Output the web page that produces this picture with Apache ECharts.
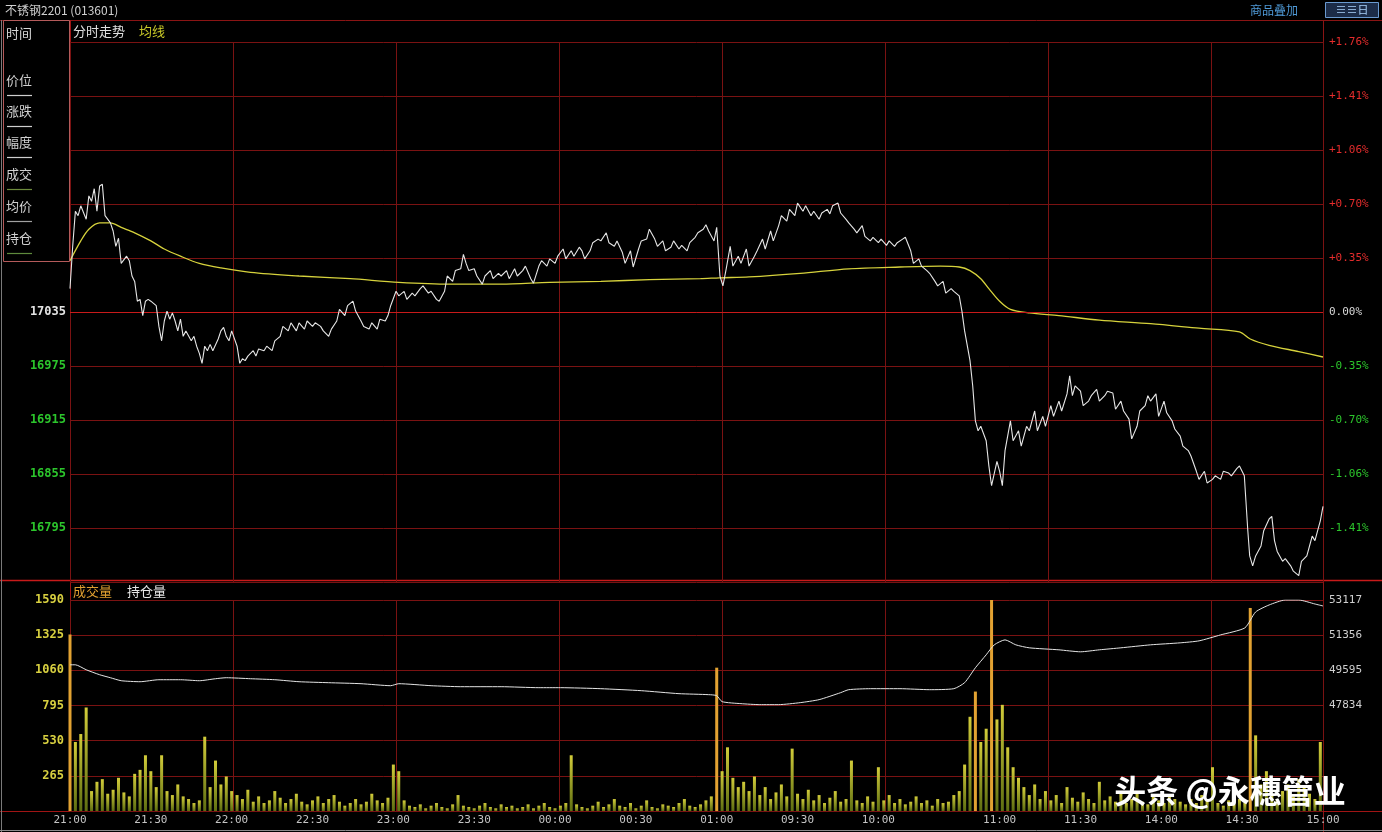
<!DOCTYPE html>
<html><head><meta charset="utf-8">
<script src="https://cdn.jsdelivr.net/npm/echarts@6/dist/echarts.min.js"></script>
<style>html,body{margin:0;padding:0;background:#000;}#c{width:1382px;height:832px;}</style>
</head><body><div id="c"></div>
<script>
// ---------- data ----------
const timeTickMinutes = [0,30,60,90,120,150,180,210,240,270,300,345,375,405,435,465];
const timeTickLabels = ['21:00','21:30','22:00','22:30','23:00','23:30','00:00','00:30','01:00','09:30','10:00','11:00','11:30','14:00','14:30','15:00'];

const priceTicks = [17335,17275,17215,17155,17095,17035,16975,16915,16855,16795,16735];
const priceLeftLabels = ['','','','','','17035','16975','16915','16855','16795',''];
const pctLabels = ['+1.76%','+1.41%','+1.06%','+0.70%','+0.35%','0.00%','-0.35%','-0.70%','-1.06%','-1.41%',''];
const volTicks = [1590,1325,1060,795,530,265];
const oiTicks = [53117,51356,49595,47834];

// [minute since 21:00 (trading time), price]
const priceTrace = [[0,17061],[1,17108],[2,17147],[3,17142],[4,17153],[6,17138],[7,17164],[8,17158],[9,17172],[10,17147],[11,17175],[12,17177],[13,17142],[15,17134],[16,17125],[17,17108],[18,17117],[19,17089],[21,17097],[22,17092],[23,17075],[24,17069],[25,17047],[26,17049],[27,17031],[28,17047],[29,17049],[30,17047],[32,17042],[33,17019],[34,17003],[35,17025],[36,17036],[37,17027],[38,17034],[39,17025],[40,17014],[41,17027],[42,17008],[43,17014],[45,17003],[46,17008],[47,16997],[48,16989],[49,16978],[50,16997],[51,16992],[52,16999],[53,16992],[55,17005],[56,17014],[57,17018],[58,17008],[59,17003],[60,17014],[62,16997],[63,16978],[64,16983],[65,16981],[66,16986],[68,16992],[69,16986],[70,16994],[72,16992],[73,16997],[75,16992],[76,17003],[78,17008],[79,17019],[81,17014],[82,17023],[84,17014],[85,17023],[87,17016],[88,17025],[90,17019],[91,17023],[93,17019],[94,17014],[96,17008],[97,17016],[99,17025],[100,17038],[102,17031],[103,17042],[105,17047],[106,17036],[108,17025],[109,17019],[111,17016],[112,17023],[114,17016],[115,17027],[117,17025],[118,17031],[119,17042],[121,17058],[122,17053],[124,17058],[125,17049],[127,17056],[128,17053],[130,17061],[131,17064],[133,17056],[134,17058],[136,17049],[137,17047],[139,17058],[140,17075],[142,17069],[143,17081],[145,17083],[146,17099],[147,17089],[148,17081],[150,17083],[151,17075],[153,17066],[154,17075],[156,17081],[157,17072],[159,17078],[160,17075],[162,17081],[163,17072],[165,17083],[166,17075],[168,17081],[169,17086],[171,17072],[172,17067],[174,17086],[175,17092],[177,17086],[178,17094],[180,17089],[181,17097],[183,17105],[184,17094],[186,17103],[187,17097],[189,17107],[190,17103],[191,17094],[193,17103],[194,17112],[196,17116],[197,17114],[199,17123],[200,17112],[202,17108],[203,17114],[205,17101],[206,17089],[208,17103],[209,17085],[211,17105],[212,17114],[214,17116],[215,17127],[217,17116],[218,17108],[220,17114],[221,17103],[223,17107],[224,17114],[226,17105],[227,17109],[229,17103],[230,17112],[232,17118],[233,17123],[235,17127],[236,17132],[237,17125],[239,17114],[240,17129],[241.2,17075],[242.3,17064],[243.4,17081],[245,17108],[246,17086],[248,17097],[249,17089],[251,17105],[252,17086],[254,17097],[255,17103],[257,17116],[258,17105],[260,17125],[261,17114],[263,17131],[264,17142],[266,17136],[267,17149],[269,17142],[270,17156],[272,17147],[273,17153],[275,17142],[276,17147],[278,17138],[279,17145],[281,17149],[282,17144],[283,17153],[285,17156],[286,17145],[288,17138],[289,17134],[291,17127],[292,17123],[294,17131],[295,17119],[297,17114],[298,17118],[300,17112],[301,17116],[303,17109],[304,17114],[306,17108],[307,17112],[309,17116],[310,17118],[312,17103],[313,17089],[315,17094],[316,17086],[318,17081],[319,17078],[321,17069],[322,17064],[324,17069],[325,17056],[327,17061],[328,17058],[330,17053],[331,17036],[332,17014],[334,16981],[335,16953],[336,16914],[337,16903],[338,16908],[340,16892],[341,16864],[342,16842],[344,16869],[345,16858],[346,16842],[347,16881],[349,16914],[350,16892],[352,16903],[353,16886],[355,16908],[356,16903],[358,16925],[359,16903],[361,16919],[362,16908],[364,16931],[365,16919],[367,16936],[368,16925],[370,16944],[371,16964],[372,16942],[373,16953],[375,16947],[376,16931],[378,16936],[379,16942],[381,16949],[382,16936],[384,16942],[385,16947],[387,16945],[388,16927],[390,16936],[391,16925],[393,16916],[394,16894],[396,16908],[397,16925],[399,16931],[400,16942],[401,16936],[403,16944],[404,16919],[406,16936],[407,16923],[409,16914],[410,16905],[412,16897],[413,16886],[415,16881],[416,16875],[418,16858],[419,16849],[421,16858],[422,16845],[424,16849],[425,16853],[427,16849],[428,16858],[430,16856],[431,16853],[433,16861],[434,16864],[435.8,16853],[436.4,16825],[437.1,16792],[437.8,16764],[438.9,16753],[440,16764],[442,16775],[443,16792],[445,16805],[446,16808],[447,16781],[448,16769],[450,16758],[451,16761],[453,16753],[454,16747],[456,16742],[457,16758],[459,16764],[460,16775],[461,16786],[462,16781],[464,16803],[465,16819]];

const avgTrace = [[0,17092],[4,17114],[7,17127],[11,17134],[15,17134],[19,17129],[24,17123],[30,17114],[35,17105],[41,17097],[48,17089],[56,17084],[67,17079],[85,17075],[104,17072],[122,17068],[141,17066],[160,17066],[178,17068],[197,17069],[215,17071],[234,17072],[241,17073],[252,17074],[271,17078],[289,17083],[308,17085],[323,17086],[330,17085],[334,17081],[338,17072],[341,17061],[345,17047],[349,17038],[356,17034],[367,17031],[382,17026],[401,17022],[419,17017],[434,17013],[438,17005],[445,16998],[456,16991],[465,16985]];

const oiTrace = [[0,49873],[2,49873],[6,49624],[11,49374],[15,49225],[19,49075],[26,49025],[33,49125],[41,49125],[48,49075],[54,49175],[58,49225],[67,49175],[76,49125],[85,49025],[96,48976],[108,48926],[119,48826],[122,48926],[134,48826],[145,48776],[160,48776],[174,48726],[182,48726],[197,48676],[212,48576],[226,48427],[237,48377],[240,48327],[242,48027],[249,47927],[256,47877],[263,47877],[271,47977],[278,48127],[286,48477],[289,48626],[297,48676],[308,48676],[319,48626],[328,48676],[332,48976],[336,49724],[340,50372],[343,50872],[347,51121],[351,50872],[356,50722],[367,50622],[375,50523],[382,50622],[390,50722],[401,50872],[412,50972],[419,51071],[427,51370],[436,51720],[440,52518],[445,52868],[451,53117],[456,53117],[462,52917],[465,52818]];

// volume per 2-minute bucket (bucket i starts at minute 2*i)
const volume2m = [
1330,520,580,780,150,220,240,130,160,250,
140,110,280,310,420,300,180,420,150,120,
200,110,90,60,80,560,180,380,200,260,
150,120,90,160,70,110,60,80,150,100,
60,90,130,70,50,80,110,60,90,120,
70,40,60,90,50,70,130,80,60,100,
350,300,80,40,30,50,20,40,60,30,
20,50,120,40,30,20,40,60,30,20,
50,30,40,20,30,50,20,40,60,30,
20,40,60,420,50,30,20,40,70,30,
50,90,40,30,60,20,40,80,30,20,
50,40,30,60,90,40,30,50,80,110,
1080,300,480,250,180,220,150,260,120,180,
90,140,200,110,470,130,90,160,80,120,
60,100,150,70,90,380,80,60,110,70,
330,80,120,60,90,50,70,110,60,80,
40,90,60,70,120,150,350,710,900,520,
620,1590,690,800,480,330,250,180,120,200,
90,150,80,120,60,180,100,70,140,90,
60,220,80,110,70,130,60,90,150,70,
50,110,80,60,120,90,70,50,90,60,
120,80,330,60,40,80,50,90,60,1530,
570,200,300,120,90,150,200,110,240,180,
130,90,520];

// ---------- chart ----------
const chart = echarts.init(document.getElementById('c'), null, {renderer:'canvas'});
const MONO = 'DejaVu Sans Mono';
const CJK = 'Noto Sans CJK SC';
const GRIDC = '#7a1212';
const volData = volume2m.map((v,i)=>[i*2, v]);
const barGrad = new echarts.graphic.LinearGradient(0,0,0,1,[{offset:0,color:'#d2cc3a'},{offset:1,color:'#5e6e12'}]);

function lineG(x1,y1,x2,y2,color,w){return {type:'line',silent:true,shape:{x1,y1,x2,y2},style:{stroke:color,lineWidth:w||1}};}
function txt(x,y,t,color,size,extra){return Object.assign({type:'text',silent:true,x,y,style:{text:t,fill:color,font:(size||13)+'px "'+CJK+'"',textVerticalAlign:'middle'}},extra||{});}

const panelItems = ['价位','涨跌','幅度','成交','均价','持仓'];
const panelY = [80,111,142,174,206,238];
const panelLineColor = ['#cfcfcf','#cfcfcf','#cfcfcf','#6d8a3c','#a0a0a0','#5f8a3c'];
const graphics = [
  // frame lines
  lineG(0,20.5,1382,20.5,'#8a1414',1),
  lineG(1323.5,20,1323.5,832,'#8a1414',1),
  lineG(70.5,20,70.5,811,'#a01414',1),
  lineG(0,580.5,1382,580.5,'#c81a1a',1.5),
  lineG(0,811.5,1382,811.5,'#a01414',1),
  lineG(1.5,20,1.5,832,'#7a7a7a',1),
  lineG(0,830.5,1382,830.5,'#8a8a8a',1),
  // header
  txt(5,10,'不锈钢2201 (013601)','#d0d0d0',12),
  txt(1250,10,'商品叠加','#4f9ad8',12),
  {type:'rect',silent:true,shape:{x:1325.5,y:2.5,width:53,height:15},style:{fill:'#1c2c48',stroke:'#6a9ad0',lineWidth:1}},
  {type:'text',silent:true,x:1352,y:10,style:{text:'≡≡日',fill:'#a8d0f8',font:'11px "'+CJK+'"',textAlign:'center',textVerticalAlign:'middle'}},
  // left info panel
  {type:'rect',silent:true,z:50,shape:{x:3.5,y:20.5,width:66,height:241},style:{fill:'#000',stroke:'#b45a5a',lineWidth:1}},
  txt(6,33,'时间','#d8d8d8',13,{z:51}),
  lineG(7,48.5,32,48.5,'#cfcfcf',1.2),
  // panel titles
  txt(73,31,'分时走势','#e0e0e0',13),
  txt(139,31,'均线','#c8c828',13),
  txt(73,591,'成交量','#e0a030',13),
  txt(127,591,'持仓量','#e8e8e8',13),
  // watermark
  {type:'text',silent:true,z:100,x:1230,y:791,style:{text:'头条 @永穗管业',fill:'#ffffff',font:'bold 32px "'+CJK+'"',textAlign:'center',textVerticalAlign:'middle',shadowColor:'rgba(0,0,0,0.6)',shadowBlur:4}}
];
panelItems.forEach((t,i)=>{
  const g = txt(6,panelY[i],t,'#d0d0d0',13); g.z=51; graphics.push(g);
  const l = lineG(7,panelY[i]+15.5,32,panelY[i]+15.5,panelLineColor[i],1.2); l.z=51; graphics.push(l);
});

const monoRich = (c)=>({color:c,fontFamily:MONO,fontSize:12,fontWeight:'bold'});

const option = {
  backgroundColor:'#000',
  animation:false,
  grid:[{left:70,top:42,width:1253,height:540},{left:70,top:600,width:1253,height:211}],
  xAxis:[
    {gridIndex:0,type:'value',min:0,max:465,axisLine:{show:false},axisTick:{show:false},axisLabel:{show:false},splitLine:{show:false}},
    {gridIndex:0,type:'value',min:0,max:7.687,interval:1,position:'top',axisLine:{show:false},axisTick:{show:false},axisLabel:{show:false},splitLine:{show:true,lineStyle:{color:GRIDC,width:1}}},
    {gridIndex:1,type:'value',min:0,max:465,interval:15,axisLine:{show:false},axisTick:{show:false},splitLine:{show:false},
      axisLabel:{showMinLabel:true,showMaxLabel:true,hideOverlap:false,margin:4,color:'#c4c4c4',fontFamily:MONO,fontSize:11,
        formatter:function(v){const k=timeTickMinutes.indexOf(Math.round(v));return k>=0?timeTickLabels[k]:'';}}},
    {gridIndex:1,type:'value',min:0,max:7.687,interval:1,position:'top',axisLine:{show:false},axisTick:{show:false},axisLabel:{show:false},splitLine:{show:true,lineStyle:{color:GRIDC,width:1}}}
  ],
  yAxis:[
    {gridIndex:0,type:'value',min:16735,max:17335,interval:60,position:'left',axisLine:{show:false},axisTick:{show:false},
      splitLine:{show:true,lineStyle:{color:GRIDC,width:1}},
      axisLabel:{margin:4,showMinLabel:true,showMaxLabel:true,
        formatter:function(v){const k=priceTicks.indexOf(Math.round(v));if(k<0||!priceLeftLabels[k])return '';return (Math.round(v)===17035?'{w|':'{g|')+priceLeftLabels[k]+'}';},
        rich:{w:monoRich('#e4e4e4'),g:monoRich('#2cc62c')}}},
    {gridIndex:0,type:'value',min:16735,max:17335,interval:60,position:'right',axisLine:{show:false},axisTick:{show:false},splitLine:{show:false},
      axisLabel:{margin:6,showMinLabel:true,showMaxLabel:true,
        formatter:function(v){const k=priceTicks.indexOf(Math.round(v));if(k<0||!pctLabels[k])return '';const r=Math.round(v);return (r>17035?'{r|':(r===17035?'{w|':'{g|'))+pctLabels[k]+'}';},
        rich:{r:{color:'#e42c2c',fontFamily:MONO,fontSize:11},w:{color:'#d8d8d8',fontFamily:MONO,fontSize:11},g:{color:'#2cc62c',fontFamily:MONO,fontSize:11}}}},
    {gridIndex:1,type:'value',min:0,max:1590,interval:265,position:'left',axisLine:{show:false},axisTick:{show:false},
      splitLine:{show:true,lineStyle:{color:GRIDC,width:1}},
      axisLabel:{margin:6,showMaxLabel:true,color:'#d8d040',fontFamily:MONO,fontSize:12,fontWeight:'bold',
        formatter:function(v){return volTicks.indexOf(Math.round(v))>=0?String(Math.round(v)):'';}}},
    {gridIndex:1,type:'value',min:42551,max:53117,interval:1761,position:'right',axisLine:{show:false},axisTick:{show:false},splitLine:{show:false},
      axisLabel:{margin:6,showMaxLabel:true,color:'#cfcfcf',fontFamily:MONO,fontSize:11,
        formatter:function(v){return oiTicks.indexOf(Math.round(v))>=0?String(Math.round(v)):'';}}}
  ],
  series:[
    {name:'价格',type:'line',xAxisIndex:0,yAxisIndex:0,data:priceTrace,showSymbol:false,symbol:'none',
      lineStyle:{color:'#e6e6e6',width:1.1},z:5,
      markLine:{silent:true,symbol:'none',label:{show:false},lineStyle:{color:'#c81a1a',width:1,type:'solid'},data:[{yAxis:17035}]}},
    {name:'均线',type:'line',xAxisIndex:0,yAxisIndex:0,data:avgTrace,showSymbol:false,symbol:'none',smooth:0.3,
      lineStyle:{color:'#d6d23c',width:1.3},z:4},
    {name:'成交量',type:'bar',xAxisIndex:2,yAxisIndex:2,data:volData,barWidth:3,
      itemStyle:{color:function(p){return p.value[1]>=900?'#e2a232':barGrad;}},z:3},
    {name:'持仓量',type:'line',xAxisIndex:2,yAxisIndex:3,data:oiTrace,showSymbol:false,symbol:'none',smooth:0.2,
      lineStyle:{color:'#e4e4e4',width:1},z:4}
  ],
  graphic:{elements:graphics}
};
chart.setOption(option);
</script>
</body></html>
